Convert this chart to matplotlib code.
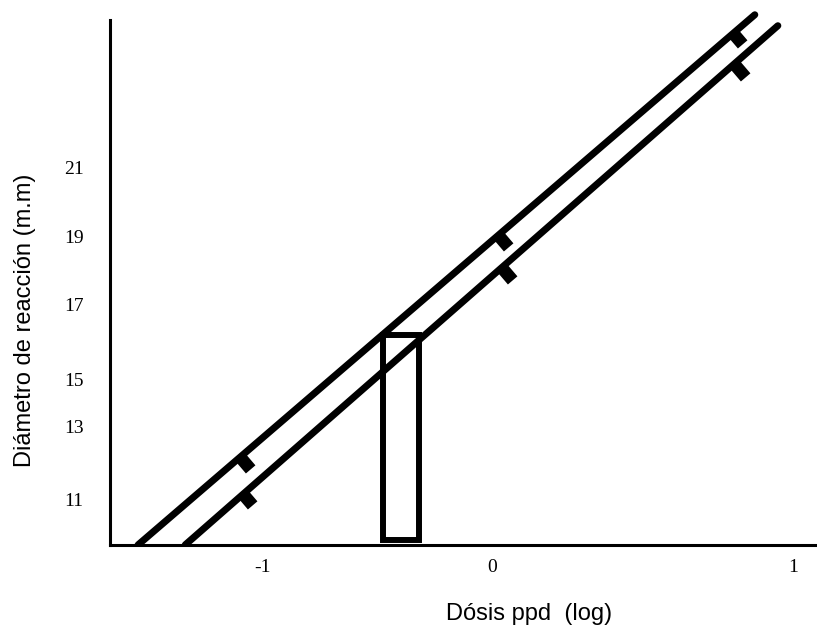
import matplotlib.pyplot as plt
import numpy as np
from matplotlib.patches import Rectangle
from matplotlib.path import Path

# fitted lines (log dose vs reaction diameter)
upper_x = [-1.336, 0.992]
upper_y = [9.645, 25.61]
lower_x = [-1.158, 1.079]
lower_y = [9.645, 25.28]

# observed points on each line
pts_upper_x = [-0.951, 0.023, 0.906]
pts_upper_y = [12.30, 18.98, 25.10]
pts_lower_x = [-0.943, 0.038, 0.917]
pts_lower_y = [11.21, 17.99, 24.10]

# box around the potency estimate
box_x = [-0.411, -0.275]
box_y = [9.80, 15.97]

xtick_pos = [-0.868, 0.0, 1.136]
xtick_lab = ['-1', '0', '1']
ytick_pos = [11, 13.2, 14.61, 16.87, 18.92, 21]
ytick_lab = ['11', '13', '15', '17', '19', '21']

fig = plt.figure(figsize=(8.17, 6.30), dpi=100)
ax = fig.add_axes([0.1346, 0.1349, 0.8629, 0.857])
ax.set_xlim(-1.442, 1.219)
ax.set_ylim(9.64, 25.9)

ax.plot(upper_x, upper_y, color='black', lw=5, solid_capstyle='round')
ax.plot(lower_x, lower_y, color='black', lw=5, solid_capstyle='round')

# flag-shaped marker sticking out below-right of the line
ang = np.deg2rad(40.5)
u = np.array([np.cos(ang), np.sin(ang)])
p = np.array([np.sin(ang), -np.cos(ang)])
verts = [-0.4 * u, 0.4 * u, 0.4 * u + p, -0.4 * u + p, -0.4 * u]
flag = Path(verts, [Path.MOVETO, Path.LINETO, Path.LINETO, Path.LINETO, Path.CLOSEPOLY])
ax.plot(pts_upper_x, pts_upper_y, ls='none', marker=flag, ms=23, color='black', mew=0)
ax.plot(pts_lower_x, pts_lower_y, ls='none', marker=flag, ms=23, color='black', mew=0)

ax.add_patch(Rectangle((box_x[0], box_y[0]), box_x[1] - box_x[0], box_y[1] - box_y[0],
                       fill=False, ec='black', lw=4.3, joinstyle='miter'))

for s in ['top', 'right']:
    ax.spines[s].set_visible(False)
ax.spines['left'].set_linewidth(2.2)
ax.spines['bottom'].set_linewidth(2.2)
ax.spines['left'].set_bounds(9.64, 25.46)

ax.set_xticks(xtick_pos)
ax.set_xticklabels(xtick_lab, family='Liberation Serif', fontsize=14)
ax.set_yticks(ytick_pos)
ax.set_yticklabels(ytick_lab, family='Liberation Serif', fontsize=14)
ax.tick_params(axis='both', length=0)
ax.tick_params(axis='y', pad=19)
ax.tick_params(axis='x', pad=10)

ax.set_xlabel('Dósis ppd  (log)', family='Liberation Sans', fontsize=17)
ax.xaxis.set_label_coords((529 - 110) / 705, -(603 - 545) / 540)
ax.set_ylabel('Diámetro de reacción (m.m)', family='Liberation Sans', fontsize=17)
ax.yaxis.set_label_coords(-(110 - 36) / 705, (545 - 320) / 540)

fig.savefig('out.png', dpi=100)
